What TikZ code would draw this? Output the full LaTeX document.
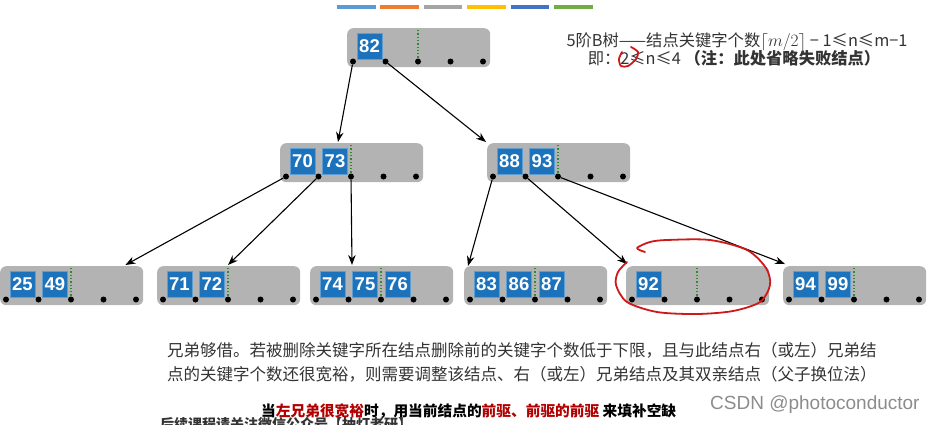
\documentclass[tikz,border=0pt]{standalone}
\usepackage{fontspec}
\setmainfont{Noto Sans CJK SC}
\newfontfamily\keyfont{Liberation Sans}
\usetikzlibrary{arrows.meta,calc,positioning}
\definecolor{nodegray}{HTML}{B3B3B3}
\definecolor{keyblue}{HTML}{1C73BC}
\definecolor{mingreen}{HTML}{2E8B2E}
\definecolor{inkred}{HTML}{D01818}
\definecolor{notered}{HTML}{B00000}
\definecolor{textgray}{HTML}{333333}
\definecolor{markgray}{HTML}{8C8C8C}
\definecolor{barA}{HTML}{5B9BD5}
\definecolor{barB}{HTML}{ED7D31}
\definecolor{barC}{HTML}{A5A5A5}
\definecolor{barD}{HTML}{FFC000}
\definecolor{barE}{HTML}{4472C4}
\definecolor{barF}{HTML}{70AD47}
\tikzset{
    bnode/.style={fill=nodegray, rounded corners=6pt, minimum width=143pt, minimum height=39pt, inner sep=0pt, anchor=north west},
    key/.style={fill=keyblue, draw=keyblue!70!white, line width=0.6pt, minimum width=25pt, minimum height=26pt, inner sep=0pt, text=white, font=\keyfont\bfseries\fontsize{18.5}{18.5}\selectfont},
    ptr/.style={circle, fill=black, inner sep=0pt, minimum size=6pt},
    minline/.style={mingreen, dotted, line width=1.3pt},
    link/.style={-{Stealth[length=10pt, width=7.5pt]}, line width=1.1pt},
    inkmark/.style={inkred, line width=1.8pt, line cap=round, line join=round},
    note/.style={text=textgray, inner sep=0pt}
}
% one B-tree node: name, left, top, keys
\newcommand{\btnode}[4]{%
    \node[bnode] (#1) at (#2,#3) {};
    \draw[minline] ($(#1.north west)+(71,2)$) -- ($(#1.north west)+(71,33)$);
    \foreach \k [count=\i from 0] in {#4}
        \node[key] (#1-k\i) at ($(#1.north west)+(22.5+32.5*\i,18)$) {\k};
    \foreach \i in {0,...,4}
        \node[ptr] (#1-p\i) at ($(#1.north west)+(6+32.5*\i,33.5)$) {};
}

\begin{document}
\begin{tikzpicture}[x=1pt, y=-1pt]
    \useasboundingbox (0,0) rectangle (934,424);

    % colour bar on top
    \foreach \c [count=\i from 0] in {barA,barB,barC,barD,barE,barF}
        \fill[\c] (337+43.4*\i,5) rectangle (375.5+43.4*\i,9);

    % the tree
    \btnode{root}{347}{28}{82}
    \btnode{n7073}{280}{143}{70,73}
    \btnode{n8893}{487}{143}{88,93}
    \btnode{n2549}{0}{266}{25,49}
    \btnode{n7172}{157}{266}{71,72}
    \btnode{n747576}{310}{266}{74,75,76}
    \btnode{n838687}{464}{266}{83,86,87}
    \btnode{n92}{626}{266}{92}
    \btnode{n9499}{783}{266}{94,99}

    \draw[link] (root-p0) -- ($(n7073.north west)+(58,-1)$);
    \draw[link] (root-p1) -- ($(n8893.north west)+(-1,-1)$);
    \draw[link] (n7073-p0) -- ($(n2549.north east)+(-18,-1)$);
    \draw[link] (n7073-p1) -- ($(n7172.north west)+(71,-1)$);
    \draw[link] (n7073-p2) -- ($(n747576.north west)+(42,-1)$);
    \draw[link] (n8893-p0) -- ($(n838687.north west)+(4,0)$);
    \draw[link] (n8893-p1) -- ($(n92.north west)+(1,-2)$);
    \draw[link] (n8893-p2) -- ($(n9499.north west)+(2,-2)$);

    % texts
    \node[note, font=\fontsize{16.3}{17}\selectfont] (rule) at (737,42)
        {5阶B树——结点关键字个数$\lceil m/2\rceil$ − 1≤n≤m−1};
    \node[note, font=\fontsize{16.3}{17}\selectfont] (range) at (734,58)
        {即：2≤n≤4 \textbf{（注：此处省略失败结点）}};
    \node[note, anchor=west, align=left, font=\fontsize{16.5}{24}\selectfont] (para) at (167,362)
        {兄弟够借。若被删除关键字所在结点删除前的关键字个数低于下限，且与此结点右（或左）兄弟结\\
         点的关键字个数还很宽裕，则需要调整该结点、右（或左）兄弟结点及其双亲结点（父子换位法）};
    \node[inner sep=0pt, anchor=west, font=\bfseries\fontsize{14.7}{15}\selectfont] (hint) at (261,411)
        {当\textcolor{notered}{左兄弟很宽裕}时，用当前结点的\textcolor{notered}{前驱、前驱的前驱} 来填补空缺};
    \node[inner sep=0pt, anchor=west, text=markgray, font=\keyfont\fontsize{19}{19}\selectfont] (mark) at (710,405)
        {CSDN @photoconductor};
    \begin{scope}
        \clip (0,0) rectangle (934,424);
        \node[note, anchor=north west, font=\bfseries\fontsize{14}{15}\selectfont] (ad) at (160,417)
            {后续课程请关注微信公众号【抽灯老研】};
    \end{scope}

    % red hand marks
    \draw[inkmark] plot[smooth] coordinates {(645,252) (637,248) (650,242) (667,240) (710,240) (747,250) (766,268) (770,285) (760,302) (733,311) (697,314) (657,312) (627,302) (616,285) (618,272) (627,262)};
    \draw[inkmark] plot[smooth] coordinates {(631,47) (638,52) (636,59) (628,66) (621,66) (619,59) (622,52)};
\end{tikzpicture}
\end{document}
